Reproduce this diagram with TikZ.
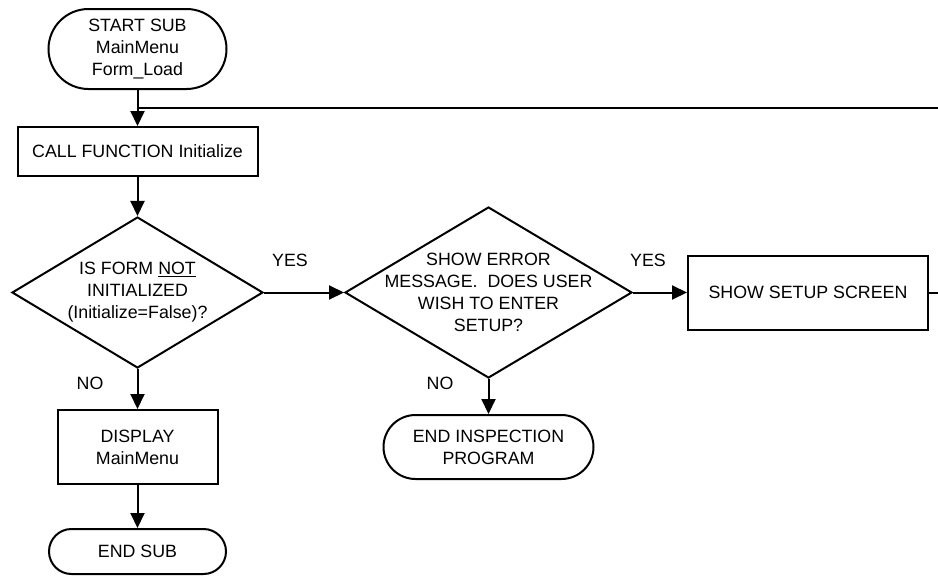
\documentclass[tikz,border=0pt]{standalone}
\usepackage{fontspec}
\setmainfont{Liberation Sans}
\usetikzlibrary{arrows.meta,shapes.geometric}
\begin{document}
\begin{tikzpicture}[x=1pt,y=-1pt,
  every node/.style={font=\fontsize{17.8}{22}\selectfont, align=center},
  base/.style={draw, line width=2pt, inner sep=0pt},
  terminal/.style={base, rectangle, rounded corners=#1},
  procbox/.style={base, rectangle},
  decision/.style={base, diamond},
  lbl/.style={inner sep=0pt},
  flow/.style={line width=2pt, -{Triangle[length=15pt,width=14pt]}},
  plain/.style={line width=2pt}
]
\useasboundingbox (0,0) rectangle (938,576);

\node[terminal=40pt, minimum width=178pt, minimum height=80pt] (start) at (137.5,49) {START SUB\\MainMenu\\Form\_Load};
\node[procbox, minimum width=240pt, minimum height=49pt] (init) at (137.5,151.5) {CALL FUNCTION Initialize};
\node[decision, minimum width=251pt, minimum height=151pt,
  label={[lbl]center:IS FORM \underline{NOT}\\INITIALIZED\\(Initialize=False)?}] (d1) at (137.5,292.5) {};
\node[procbox, minimum width=160pt, minimum height=74pt] (disp) at (137.5,447) {DISPLAY\\MainMenu};
\node[terminal=22.5pt, minimum width=177pt, minimum height=45pt] (endsub) at (137.5,551.5) {END SUB};
\node[decision, minimum width=287pt, minimum height=171pt,
  label={[lbl]center:SHOW ERROR\\MESSAGE.\ \ DOES USER\\WISH TO ENTER\\SETUP?}] (d2) at (488.5,292.5) {};
\node[terminal=32pt, minimum width=210pt, minimum height=64pt] (endins) at (488.5,447) {END INSPECTION\\PROGRAM};
\node[procbox, minimum width=240pt, minimum height=74pt] (setup) at (808,292.5) {SHOW SETUP SCREEN};

\node[lbl] (yes1) at (290,260) {YES};
\node[lbl] (no1) at (90,383) {NO};
\node[lbl] (yes2) at (648,260) {YES};
\node[lbl] (no2) at (440,383) {NO};

\coordinate (jn) at (137.5,108);
\coordinate (ne) at (938,108);
\coordinate (se) at (938,292.5);

\draw[flow] (start) -- (init);
\draw[flow] (init) -- (d1);
\draw[flow] (d1.east) -- (d2.west);
\draw[flow] (d1.south) -- (disp);
\draw[flow] (disp) -- (endsub);
\draw[flow] (d2.east) -- (setup.west);
\draw[flow] (d2.south) -- (endins);
\draw[plain] (setup.east) -- (se);
\draw[plain] (ne) -- (jn);
\end{tikzpicture}
\end{document}
